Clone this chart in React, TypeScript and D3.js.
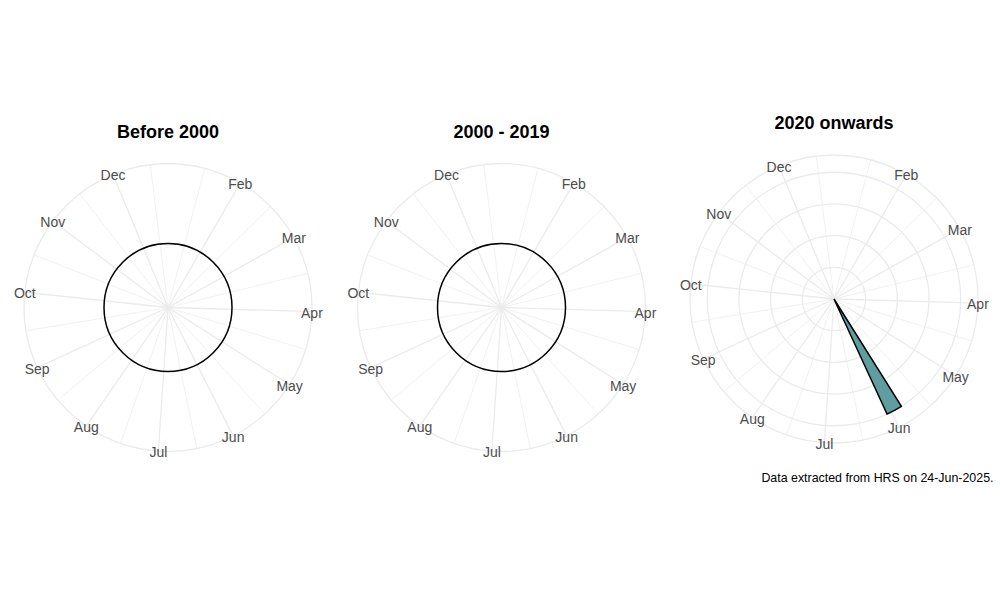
import React from "react";
import * as d3 from "d3";

// month axis (numeric month, Jan = 1)
const monthLabels = ["Jan", "Feb", "Mar", "Apr", "May", "Jun", "Jul", "Aug", "Sep", "Oct", "Nov", "Dec"];
const majorBreaks = [2, 3, 4, 5, 6, 7, 8, 9, 10, 11, 12];
const minorBreaks = [1.5, 2.5, 3.5, 4.5, 5.5, 6.5, 7.5, 8.5, 9.5, 10.5, 11.5, 12.5];
const monthDomain = [1.02, 12.73];

const periods = ["Before 2000", "2000 - 2019", "2020 onwards"];

// bars per period: month position, bar width (months), count
const before2000Bars: { month: number; width: number; count: number }[] = [];
const from2000Bars: { month: number; width: number; count: number }[] = [];
const from2020Bars = [{ month: 5.95, width: 0.24, count: 1 }];
const periodBars = [before2000Bars, from2000Bars, from2020Bars];

const countBreaks = [0.25, 0.5, 0.75, 1];

const caption = "Data extracted from HRS on 24-Jun-2025.";

const FONT = "Liberation Sans, Arial, Helvetica, sans-serif";
const GRID = "#EBEBEB";

interface PanelProps {
  title: string;
  bars: { month: number; width: number; count: number }[];
  cx: number;
  cy: number;
}

const Panel: React.FC<PanelProps> = ({ title, bars, cx, cy }) => {
  const inner = 128; // r for max of value scale (0.4)
  const outer = 144; // outer ring (0.45)

  const theta = d3.scaleLinear().domain(monthDomain).range([0, 2 * Math.PI]);
  const empty = bars.length === 0;
  // zero-width count range gets expanded to [-0.5, 0.5] like ggplot does
  const r = d3
    .scaleLinear()
    .domain(empty ? [-0.5, 0.5] : [0, 1.01])
    .range([0, inner]);

  const px = (a: number, rad: number) => rad * Math.sin(a);
  const py = (a: number, rad: number) => -rad * Math.cos(a);

  const arc = d3.arc<{ month: number; width: number; count: number }>()
    .innerRadius(r(0))
    .outerRadius((d) => r(d.count))
    .startAngle((d) => theta(d.month - d.width / 2))
    .endAngle((d) => theta(d.month + d.width / 2));

  return (
    <g transform={`translate(${cx},${cy})`}>
      {/* minor spokes */}
      {minorBreaks.map((m) => (
        <line key={"mi" + m} x1={0} y1={0} x2={px(theta(m), outer)} y2={py(theta(m), outer)}
          stroke={GRID} strokeWidth={0.7} />
      ))}
      {/* radial circles */}
      {!empty && countBreaks.map((b) => (
        <circle key={"c" + b} r={r(b)} fill="none" stroke={GRID} strokeWidth={1.3} />
      ))}
      <circle r={outer} fill="none" stroke={GRID} strokeWidth={1.3} />
      {/* major spokes */}
      {majorBreaks.map((m) => (
        <line key={"ma" + m} x1={0} y1={0} x2={px(theta(m), outer)} y2={py(theta(m), outer)}
          stroke={GRID} strokeWidth={1.3} />
      ))}
      {/* zero baseline when nothing to show */}
      {empty && <circle r={r(0)} fill="none" stroke="#000" strokeWidth={1.5} />}
      {bars.map((d, i) => (
        <path key={"b" + i} d={arc(d) || ""} fill="#5F9EA0" stroke="#000" strokeWidth={1.5}
          strokeLinejoin="miter" />
      ))}
      {majorBreaks.map((m) => (
        <text key={"l" + m} x={px(theta(m), outer)} y={py(theta(m), outer) + 1}
          textAnchor="middle" dominantBaseline="central" fontSize={14} fill="#4D4D4D"
          fontFamily={FONT}>
          {monthLabels[m - 1]}
        </text>
      ))}
      <text x={0} y={-cy + (cy > 303 ? 137.7 : 128.5)} textAnchor="middle" fontSize={18}
        fontWeight="bold" fill="#000" fontFamily={FONT}>
        {title}
      </text>
    </g>
  );
};

export default function App() {
  const centers = [
    { cx: 168, cy: 307.5 },
    { cx: 501.5, cy: 307.5 },
    { cx: 834, cy: 299 },
  ];
  return (
    <svg width={1000} height={600} style={{ position: "absolute", left: 0, top: 0, background: "#fff" }}>
      <rect width={1000} height={600} fill="#fff" />
      {periods.map((p, i) => (
        <Panel key={p} title={p} bars={periodBars[i]} cx={centers[i].cx} cy={centers[i].cy} />
      ))}
      <text x={993.5} y={482} textAnchor="end" fontSize={12.4} fill="#000" fontFamily={FONT}>
        {caption}
      </text>
    </svg>
  );
}
